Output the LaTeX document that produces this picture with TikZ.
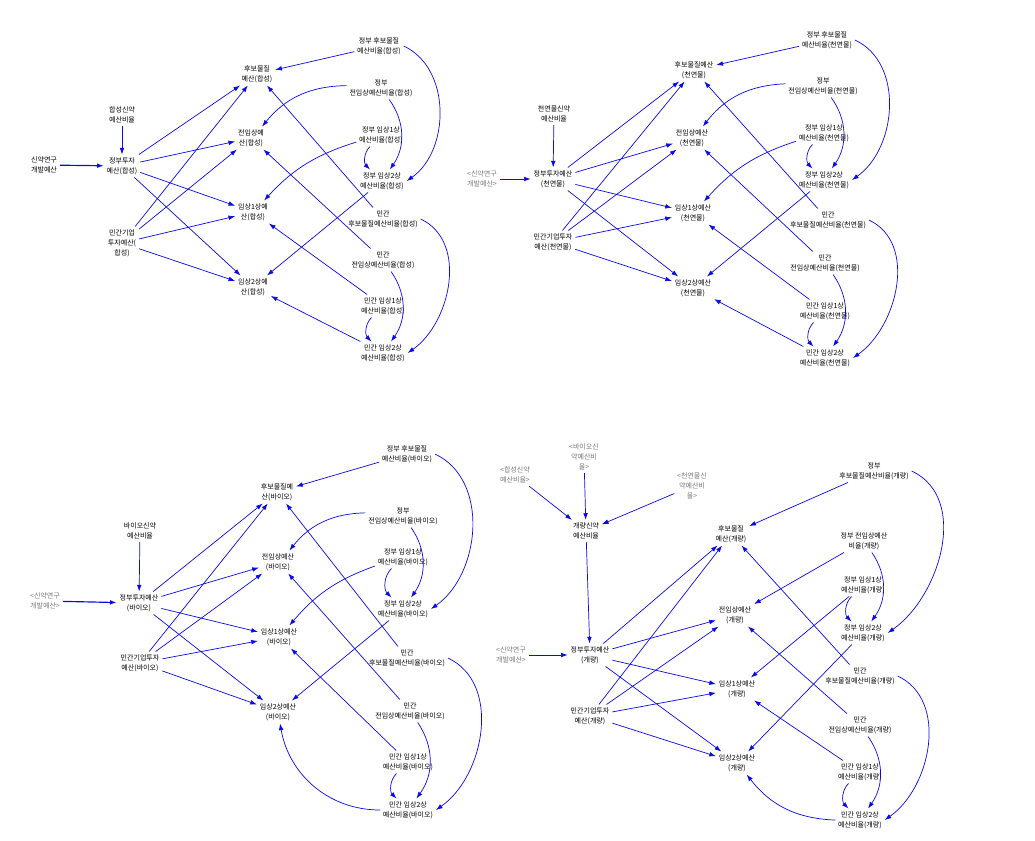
\documentclass[tikz,border=0pt]{standalone}
\usepackage{fontspec}
\setmainfont{Noto Sans CJK KR}
\usetikzlibrary{arrows.meta}

\definecolor{linkblue}{RGB}{10,10,235}
\definecolor{shadowgray}{RGB}{120,120,120}

\tikzset{
	var/.style={font=\fontsize{6}{8.5}\selectfont, align=center, inner sep=1pt, outer sep=1.5pt},
	shadowvar/.style={var, text=shadowgray},
	link/.style={draw=linkblue, line width=0.6pt, -{Latex[length=2mm,width=1.4mm]}},
	mainlink/.style={link, line width=1pt},
}

% links that every panel shares
\newcommand{\budgetlinks}[1]{
	\foreach \t in {cand,pre,pa,pb} {
		\draw[link] (#1-gov) -- (#1-\t);
		\draw[link] (#1-priv) -- (#1-\t);
	}
	\draw[link]	(#1-gcand) -- (#1-cand);
	\draw[link]	(#1-gcand.east) to[out=-25,in=35] (#1-gpb.east);
	\draw[link]	(#1-gpre) to[bend left=35] (#1-gpb);
	\draw[link]	(#1-gpa) to[bend right=45] (#1-gpb);
	\draw[link]	(#1-gpb) -- (#1-pb);
	\draw[link]	(#1-pcand) -- (#1-cand);
	\draw[link]	(#1-pcand.east) to[out=-25,in=35] (#1-ppb.east);
	\draw[link]	(#1-ppre) -- (#1-pre);
	\draw[link]	(#1-ppre) to[bend left=35] (#1-ppb);
	\draw[link]	(#1-ppa) -- (#1-pa);
	\draw[link]	(#1-ppa) to[bend right=45] (#1-ppb);
}

\begin{document}
\begin{tikzpicture}[x=0.03cm, y=-0.03cm]
	\useasboundingbox (0,0) rectangle (1035,841);

	% panel 1: 합성
	\node[var] (a-in)    at (44,165)  {신약연구\\개발예산};
	\node[var] (a-share) at (122,115) {합성신약\\예산비율};
	\node[var] (a-gov)   at (122,166) {정부투자\\예산(합성)};
	\node[var] (a-priv)  at (122,243) {민간기업\\투자예산(\\합성)};
	\node[var] (a-cand)  at (257,74)  {후보물질\\예산(합성)};
	\node[var] (a-pre)   at (251,138) {전임상예\\산(합성)};
	\node[var] (a-pa)    at (253,212) {임상1상예\\산(합성)};
	\node[var] (a-pb)    at (253,287) {임상2상예\\산(합성)};
	\node[var] (a-gcand) at (379,46)  {정부 후보물질\\예산비율(합성)};
	\node[var] (a-gpre)  at (381,88)  {정부\\전임상예산비율(합성)};
	\node[var] (a-gpa)   at (381,135) {정부 임상1상\\예산비율(합성)};
	\node[var] (a-gpb)   at (382,181) {정부 임상2상\\예산비율(합성)};
	\node[var] (a-pcand) at (383,219) {민간\\후보물질예산비율(합성)};
	\node[var] (a-ppre)  at (383,260) {민간\\전임상예산비율(합성)};
	\node[var] (a-ppa)   at (383,306) {민간 임상1상\\예산비율(합성)};
	\node[var] (a-ppb)   at (383,353) {민간 임상2상\\예산비율(합성)};

	\draw[mainlink] (a-in) -- (a-gov);
	\draw[link] (a-share) -- (a-gov);
	\budgetlinks{a}
	\draw[link] (a-gpre) to[bend right=25] (a-pre);
	\draw[link] (a-gpa) to[bend right=15] (a-pa);
	\draw[link] (a-ppb) -- (a-pb);

	% panel 2: 천연물
	\node[shadowvar] (b-in) at (482,179) {<신약연구\\개발예산>};
	\node[var] (b-share) at (554,114) {천연물신약\\예산비율};
	\node[var] (b-gov)   at (553,179) {정부투자예산\\(천연물)};
	\node[var] (b-priv)  at (553,242) {민간기업투자\\예산(천연물)};
	\node[var] (b-cand)  at (694,70)  {후보물질예산\\(천연물)};
	\node[var] (b-pre)   at (692,138) {전임상예산\\(천연물)};
	\node[var] (b-pa)    at (693,213) {임상1상예산\\(천연물)};
	\node[var] (b-pb)    at (693,288) {임상2상예산\\(천연물)};
	\node[var] (b-gcand) at (827,40)  {정부 후보물질\\예산비율(천연물)};
	\node[var] (b-gpre)  at (823,86)  {정부\\전임상예산비율(천연물)};
	\node[var] (b-gpa)   at (824,133) {정부 임상1상\\예산비율(천연물)};
	\node[var] (b-gpb)   at (824,180) {정부 임상2상\\예산비율(천연물)};
	\node[var] (b-pcand) at (828,220) {민간\\후보물질예산비율(천연물)};
	\node[var] (b-ppre)  at (825,263) {민간\\전임상예산비율(천연물)};
	\node[var] (b-ppa)   at (825,311) {민간 임상1상\\예산비율(천연물)};
	\node[var] (b-ppb)   at (825,358) {민간 임상2상\\예산비율(천연물)};

	\draw[link] (b-in) -- (b-gov);
	\draw[link] (b-share) -- (b-gov);
	\budgetlinks{b}
	\draw[link] (b-gpre) to[bend right=25] (b-pre);
	\draw[link] (b-gpa) to[bend right=15] (b-pa);
	\draw[link] (b-ppb) -- (b-pb);

	% panel 3: 바이오
	\node[shadowvar] (c-in) at (45,601) {<신약연구\\개발예산>};
	\node[var] (c-share) at (140,531) {바이오신약\\예산비율};
	\node[var] (c-gov)   at (139,603) {정부투자예산\\(바이오)};
	\node[var] (c-priv)  at (140,663) {민간기업투자\\예산(바이오)};
	\node[var] (c-cand)  at (277,492) {후보물질예\\산(바이오)};
	\node[var] (c-pre)   at (278,562) {전임상예산\\(바이오)};
	\node[var] (c-pa)    at (279,637) {임상1상예산\\(바이오)};
	\node[var] (c-pb)    at (278,712) {임상2상예산\\(바이오)};
	\node[var] (c-gcand) at (407,454) {정부 후보물질\\예산비율(바이오)};
	\node[var] (c-gpre)  at (403,516) {정부\\전임상예산비율(바이오)};
	\node[var] (c-gpa)   at (403,557) {정부 임상1상\\예산비율(바이오)};
	\node[var] (c-gpb)   at (403,609) {정부 임상2상\\예산비율(바이오)};
	\node[var] (c-pcand) at (407,658) {민간\\후보물질예산비율(바이오)};
	\node[var] (c-ppre)  at (410,711) {민간\\전임상예산비율(바이오)};
	\node[var] (c-ppa)   at (408,762) {민간 임상1상\\예산비율(바이오)};
	\node[var] (c-ppb)   at (408,810) {민간 임상2상\\예산비율(바이오)};

	\draw[mainlink] (c-in) -- (c-gov);
	\draw[link] (c-share) -- (c-gov);
	\budgetlinks{c}
	\draw[link] (c-gpre) to[bend right=25] (c-pre);
	\draw[link] (c-gpa) to[bend right=15] (c-pa);
	\draw[link] (c-ppb) to[out=180,in=-80] (c-pb);

	% panel 4: 개량
	\node[shadowvar] (d-in)   at (511,655) {<신약연구\\개발예산>};
	\node[shadowvar] (d-syn)  at (515,475) {<합성신약\\예산비율>};
	\node[shadowvar] (d-bio)  at (584,457) {<바이오신\\약예산비\\율>};
	\node[shadowvar] (d-nat)  at (692,486) {<천연물신\\약예산비\\율>};
	\node[var] (d-share) at (586,531) {개량신약\\예산비율};
	\node[var] (d-gov)   at (590,655) {정부투자예산\\(개량)};
	\node[var] (d-priv)  at (590,716) {민간기업투자\\예산(개량)};
	\node[var] (d-cand)  at (731,534) {후보물질\\예산(개량)};
	\node[var] (d-pre)   at (735,615) {전임상예산\\(개량)};
	\node[var] (d-pa)    at (737,689) {임상1상예산\\(개량)};
	\node[var] (d-pb)    at (737,763) {임상2상예산\\(개량)};
	\node[var] (d-gcand) at (874,471) {정부\\후보물질예산비율(개량)};
	\node[var] (d-gpre)  at (864,541) {정부 전임상예산\\비율(개량)};
	\node[var] (d-gpa)   at (863,585) {정부 임상1상\\예산비율(개량)};
	\node[var] (d-gpb)   at (863,633) {정부 임상2상\\예산비율(개량)};
	\node[var] (d-pcand) at (860,676) {민간\\후보물질예산비율(개량)};
	\node[var] (d-ppre)  at (860,725) {민간\\전임상예산비율(개량)};
	\node[var] (d-ppa)   at (860,772) {민간 임상1상\\예산비율(개량)};
	\node[var] (d-ppb)   at (860,820) {민간 임상2상\\예산비율(개량)};

	\draw[link] (d-in) -- (d-gov);
	\draw[link] (d-syn) -- (d-share);
	\draw[link] (d-bio) -- (d-share);
	\draw[link] (d-nat) -- (d-share);
	\draw[link] (d-share) -- (d-gov);
	\budgetlinks{d}
	\draw[link] (d-gpre) -- (d-pre);
	\draw[link] (d-gpa) -- (d-pa);
	\draw[link] (d-ppb) to[bend left=25] (d-pb);
\end{tikzpicture}
\end{document}
